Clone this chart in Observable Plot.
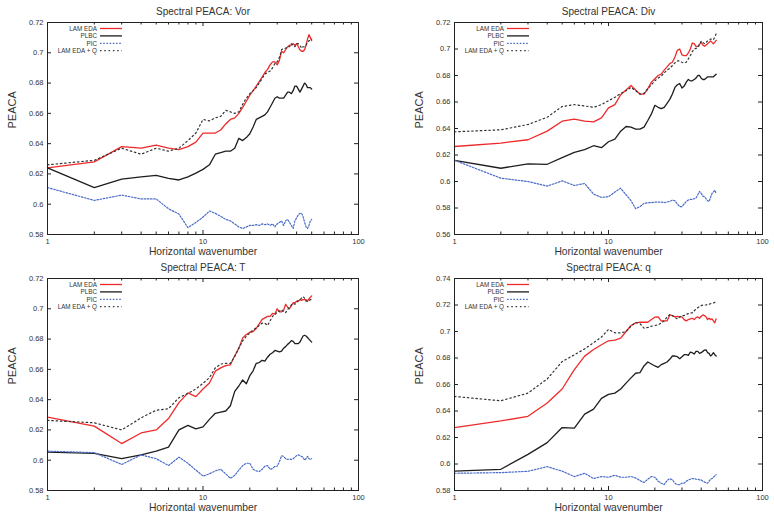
<!DOCTYPE html>
<html><head><meta charset="utf-8">
<script src="https://cdn.jsdelivr.net/npm/d3@7"></script>
<script src="https://cdn.jsdelivr.net/npm/@observablehq/plot@0.6"></script>
<style>
html,body{margin:0;padding:0;background:#fff;}
#wrap{position:relative;width:774px;height:516px;overflow:hidden;font-family:"Liberation Sans",Arial,sans-serif;}
#wrap svg{position:absolute;overflow:visible;}
</style></head><body><div id="wrap"></div>
<script>
const wavenumber = [1,2,3,4,5,6,7,8,9,10,11,12,13,14,15,16,17,18,19,20,21,22,23,24,25,26,27,28,29,30,31,32,33,34,35,36,37,38,39,40,41,42,43,44,45,46,47,48,49,50];
const seriesNames = ["LAM EDA","PLBC","PIC","LAM EDA + Q"];
const panelTitles = ["Spectral PEACA: Vor","Spectral PEACA: Div","Spectral PEACA: T","Spectral PEACA: q"];
const xLabel = "Horizontal wavenumber";
const yLabel = "PEACA";
const xTickLabels = [1,10,100];
const xMinorTicks = [2,3,4,5,6,7,8,9,20,30,40,50,60,70,80,90];
const yTicksVor = [0.58,0.60,0.62,0.64,0.66,0.68,0.70,0.72];
const yTicksDiv = [0.56,0.58,0.60,0.62,0.64,0.66,0.68,0.70,0.72];
const yTicksT = [0.58,0.60,0.62,0.64,0.66,0.68,0.70,0.72];
const yTicksQ = [0.58,0.60,0.62,0.64,0.66,0.68,0.70,0.72,0.74];

// Vor
const vorLamEda = [.624,.628,.638,.637,.639,.637,.636,.638,.641,.647,.647,.647,.649,.653,.656,.657,.660,.664,.668,.672,.675,.678,.681,.684,.687,.689,.692,.694,.694,.692,.695,.701,.700,.702,.704,.705,.705,.706,.705,.706,.704,.702,.701,.701,.702,.705,.709,.712,.710,.708];
const vorPlbc = [.624,.611,.6166,.618,.619,.617,.616,.618,.6205,.623,.626,.633,.634,.635,.635,.637,.6435,.642,.644,.6465,.651,.656,.657,.658,.659,.661,.664,.667,.670,.671,.670,.670,.670,.672,.674,.674,.673,.675,.678,.678,.676,.674,.676,.678,.680,.679,.677,.677,.677,.676];
const vorPic = [.611,.6025,.606,.6035,.6035,.597,.5935,.5845,.588,.5915,.5955,.594,.592,.590,.589,.587,.585,.584,.585,.586,.586,.5865,.586,.587,.5865,.587,.586,.587,.585,.587,.588,.589,.586,.589,.590,.588,.586,.584,.589,.591,.593,.594,.594,.592,.588,.585,.584,.586,.589,.590];
const vorLamEdaQ = [.626,.629,.637,.633,.637,.635,.637,.642,.647,.656,.655,.657,.658,.662,.661,.660,.661,.666,.670,.673,.675,.677,.680,.683,.686,.687,.688,.690,.693,.694,.697,.702,.703,.703,.704,.704,.706,.705,.704,.706,.706,.705,.703,.704,.704,.705,.707,.708,.708,.709];
// Div
const divLamEda = [.6264,.629,.6315,.638,.6455,.647,.6455,.645,.648,.6556,.658,.6655,.669,.6725,.669,.666,.666,.670,.675,.6775,.680,.681,.684,.6865,.689,.690,.694,.699,.700,.6955,.695,.695,.697,.700,.7045,.704,.702,.702,.7035,.705,.703,.702,.703,.704,.705,.706,.705,.704,.705,.7065];
const divPlbc = [.616,.610,.6133,.613,.618,.622,.624,.627,.6255,.630,.632,.638,.6415,.641,.6395,.6395,.641,.646,.651,.6575,.656,.655,.656,.659,.662,.666,.671,.673,.674,.6705,.672,.675,.677,.676,.676,.677,.678,.680,.680,.678,.677,.677,.678,.679,.679,.679,.679,.679,.680,.681];
const divPic = [.616,.6025,.600,.5965,.6005,.597,.5985,.5905,.588,.5885,.592,.595,.590,.5855,.5795,.581,.5835,.584,.584,.5845,.5845,.5845,.584,.5845,.585,.586,.5855,.583,.581,.581,.583,.585,.586,.5865,.5865,.587,.5875,.590,.5925,.591,.589,.5885,.587,.5855,.585,.588,.591,.592,.5935,.591];
const divLamEdaQ = [.6375,.639,.643,.6485,.6566,.658,.657,.656,.658,.661,.6635,.6665,.6685,.671,.6685,.666,.6665,.670,.673,.676,.678,.6795,.682,.684,.6855,.6875,.6895,.691,.691,.690,.6895,.690,.6925,.695,.698,.700,.7005,.701,.7035,.706,.705,.704,.705,.706,.7065,.7075,.7075,.707,.709,.7115];
// T
const tLamEda = [.6285,.6225,.611,.618,.620,.6275,.638,.6445,.642,.647,.651,.6588,.661,.6625,.663,.669,.674,.6808,.683,.6845,.685,.687,.690,.693,.694,.695,.695,.697,.6965,.700,.698,.698,.699,.703,.701,.700,.702,.704,.704,.705,.705,.706,.7055,.706,.706,.706,.705,.7065,.7075,.7085];
const tPlbc = [.6053,.6045,.601,.6035,.606,.6087,.620,.623,.6207,.622,.627,.631,.6318,.6325,.636,.6455,.649,.653,.6505,.6558,.659,.664,.6645,.666,.6655,.668,.670,.671,.6725,.672,.6715,.672,.674,.675,.6765,.6775,.679,.6785,.677,.677,.677,.678,.680,.682,.6825,.682,.681,.680,.679,.678];
const tPic = [.606,.605,.5972,.6035,.601,.5965,.602,.598,.5935,.5895,.591,.593,.594,.591,.588,.590,.5935,.5965,.598,.598,.594,.593,.5925,.594,.596,.5965,.594,.5945,.596,.596,.599,.603,.6025,.601,.6005,.6008,.6005,.601,.602,.603,.6035,.603,.6025,.602,.600,.601,.6025,.601,.6005,.601];
const tLamEdaQ = [.6263,.6247,.620,.628,.633,.634,.6413,.6441,.647,.6508,.6545,.661,.6635,.664,.664,.6685,.674,.6788,.682,.684,.686,.6875,.689,.6905,.6905,.689,.692,.695,.696,.698,.6985,.6995,.698,.6975,.6995,.701,.7025,.7035,.703,.704,.7055,.706,.707,.708,.707,.705,.705,.7055,.706,.706];
// q
const qLamEda = [.6275,.6325,.636,.646,.6566,.6712,.6814,.6864,.690,.693,.6935,.695,.700,.7045,.7065,.707,.707,.707,.709,.7108,.711,.708,.708,.708,.7125,.712,.711,.7115,.711,.711,.709,.708,.709,.7095,.710,.709,.7105,.711,.710,.7115,.7125,.712,.711,.709,.710,.709,.7095,.708,.7065,.7095];
const qPlbc = [.5946,.596,.6073,.6161,.6275,.627,.6376,.6414,.6495,.6525,.6535,.6566,.661,.665,.6685,.669,.674,.677,.6755,.674,.673,.675,.676,.677,.679,.6815,.6815,.681,.6795,.681,.6825,.6825,.682,.6845,.684,.683,.685,.685,.6835,.684,.685,.686,.6862,.684,.6835,.6815,.6825,.684,.6825,.6815];
const qPic = [.593,.5935,.5945,.598,.5946,.5905,.593,.589,.5905,.590,.5915,.590,.590,.5905,.5895,.5875,.586,.5885,.5905,.590,.587,.5855,.5845,.5875,.589,.588,.5855,.5843,.5845,.5855,.5855,.587,.588,.5885,.589,.589,.5885,.5885,.588,.588,.587,.5865,.5858,.5855,.587,.5885,.589,.590,.591,.592];
const qLamEdaQ = [.651,.6477,.6535,.6642,.6773,.6824,.6869,.6915,.6958,.7016,.699,.699,.700,.704,.7068,.706,.7025,.703,.704,.7045,.705,.7065,.708,.711,.7128,.712,.7105,.7095,.711,.712,.712,.713,.7135,.714,.714,.7155,.717,.718,.719,.7195,.72,.72,.72,.7205,.7205,.721,.7215,.7215,.722,.7235];

const styles = [
  {stroke:"#ee2a2a", dash:null, width:1.3},
  {stroke:"#1e1e1e", dash:null, width:1.3},
  {stroke:"#4a6cc8", dash:"1.6,1.6", width:1.2},
  {stroke:"#333333", dash:"1.5,2.8", width:1.2}
];

const W = 387, H = 258, MT = 22, MB = 24;
const panels = [
  {title: panelTitles[0], series:[vorLamEda,vorPlbc,vorPic,vorLamEdaQ], yTicks:yTicksVor, left:0, top:0, ml:47, mr:29},
  {title: panelTitles[1], series:[divLamEda,divPlbc,divPic,divLamEdaQ], yTicks:yTicksDiv, left:387, top:0, ml:67, mr:12},
  {title: panelTitles[2], series:[tLamEda,tPlbc,tPic,tLamEdaQ], yTicks:yTicksT, left:0, top:256, ml:47, mr:29},
  {title: panelTitles[3], series:[qLamEda,qPlbc,qPic,qLamEdaQ], yTicks:yTicksQ, left:387, top:256, ml:67, mr:12}
];

const fmt = d => String(+d.toFixed(2));
const wrap = document.getElementById("wrap");

panels.forEach(p => {
  const ymin = p.yTicks[0], ymax = p.yTicks[p.yTicks.length-1];
  const plotH = H - MT - MB, plotW = W - p.ml - p.mr;
  const dyPx = (ymax - ymin) / plotH;
  const ppd = plotW / 2;
  const majLen = 4, minLen = 2.5, yLen = 4;
  const xFac = Math.pow(10, yLen / ppd);
  const marks = [];
  p.series.forEach((vals, i) => {
    const rows = wavenumber.map((k, j) => ({k, v: vals[j]}));
    marks.push(Plot.line(rows, {x:"k", y:"v", stroke: styles[i].stroke, strokeWidth: styles[i].width,
      strokeDasharray: styles[i].dash || undefined, strokeLinejoin:"round"}));
  });
  marks.push(Plot.ruleX(xTickLabels, {x: d=>d, y1: ymin, y2: ymin + majLen*dyPx, stroke:"#222"}));
  marks.push(Plot.ruleX(xTickLabels, {x: d=>d, y1: ymax, y2: ymax - majLen*dyPx, stroke:"#222"}));
  marks.push(Plot.ruleX(xMinorTicks, {x: d=>d, y1: ymin, y2: ymin + minLen*dyPx, stroke:"#222"}));
  marks.push(Plot.ruleX(xMinorTicks, {x: d=>d, y1: ymax, y2: ymax - minLen*dyPx, stroke:"#222"}));
  marks.push(Plot.ruleY(p.yTicks, {y: d=>d, x1: 1, x2: xFac, stroke:"#222"}));
  marks.push(Plot.ruleY(p.yTicks, {y: d=>d, x1: 100, x2: 100/xFac, stroke:"#222"}));
  marks.push(Plot.frame({stroke:"#222", strokeWidth:1}));
  marks.push(Plot.text(p.yTicks, {y: d=>d, text: fmt, frameAnchor:"left", textAnchor:"end", lineAnchor:"middle", dx:-4, fontSize:7.5, fill:"#333"}));
  marks.push(Plot.text(xTickLabels, {x: d=>d, text: d=>String(d), frameAnchor:"bottom", lineAnchor:"middle", dy:7, fontSize:7.5, fill:"#333"}));
  marks.push(Plot.text([p.title], {text: d=>d, frameAnchor:"top", lineAnchor:"middle", dy:-11, fontSize:10, fill:"#333"}));
  marks.push(Plot.text([xLabel], {text: d=>d, frameAnchor:"bottom", lineAnchor:"middle", dy:17, fontSize:10.3, fill:"#333"}));
  marks.push(Plot.text([yLabel], {text: d=>d, frameAnchor:"left", lineAnchor:"middle", dx:-35, rotate:-90, fontSize:11, fill:"#333"}));

  const svg = Plot.plot({
    width: W, height: H,
    marginLeft: p.ml, marginRight: p.mr, marginTop: MT, marginBottom: MB,
    x: {type:"log", domain:[1,100], axis:null},
    y: {domain:[ymin, ymax], axis:null},
    style: {fontFamily:'"Liberation Sans", Arial, sans-serif', background:"transparent", overflow:"visible"},
    marks
  });
  svg.style.left = p.left + "px";
  svg.style.top = p.top + "px";

  const g = d3.select(svg).append("g").attr("font-size", 6.3).attr("fill", "#333")
    .attr("font-family", '"Liberation Sans", Arial, sans-serif');
  seriesNames.forEach((name, i) => {
    const y = MT + 6.5 + 7.4*i;
    g.append("text").attr("x", p.ml + 50).attr("y", y).attr("dy", "0.35em")
      .attr("text-anchor", "end").text(name);
    g.append("line").attr("x1", p.ml + 53).attr("x2", p.ml + 75).attr("y1", y).attr("y2", y)
      .attr("stroke", styles[i].stroke).attr("stroke-width", styles[i].width)
      .attr("stroke-dasharray", styles[i].dash || null);
  });
  wrap.appendChild(svg);
});
</script></body></html>
